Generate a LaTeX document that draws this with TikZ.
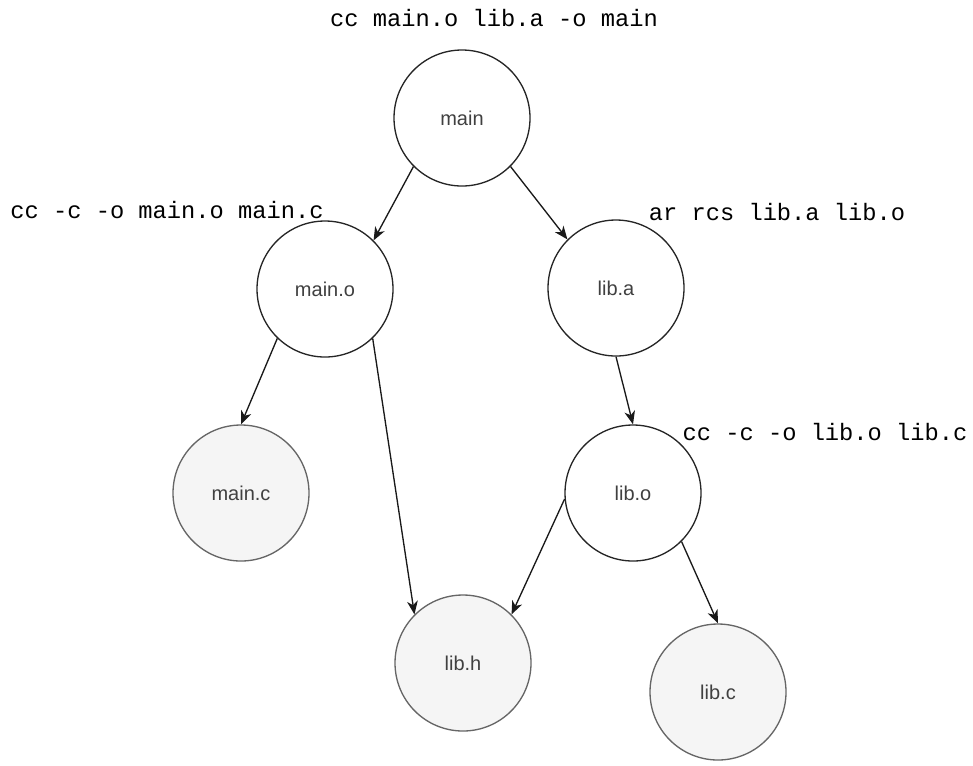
\documentclass[tikz,border=0pt]{standalone}
\usepackage{fontspec}
\setmainfont{Liberation Sans}
\setmonofont{Liberation Mono}
\usetikzlibrary{arrows.meta}

\begin{document}
\begin{tikzpicture}[x=0.75pt, y=-0.75pt,
    target/.style={draw=black!85, circle, line width=1pt, minimum size=102pt,
      inner sep=0pt, font=\fontsize{15}{18}\selectfont, text=black!75},
    source/.style={target, draw=black!60, fill=black!4},
    cmd/.style={font=\ttfamily\fontsize{17.8}{20}\selectfont},
    dep/.style={-{Stealth[length=10pt, width=8pt, inset=3pt]}, line width=1pt, black!90}]
    \useasboundingbox (0, 0) rectangle (973, 765);

    % Build targets
    \node [target] (main) at (462, 118) {main};
    \node [target] (maino) at (325, 289) {main.o};
    \node [target] (liba) at (616, 288) {lib.a};
    \node [target] (libo) at (633, 493) {lib.o};

    % Source files
    \node [source] (mainc) at (241, 493) {main.c};
    \node [source] (libh) at (463, 663) {lib.h};
    \node [source] (libc) at (718, 692) {lib.c};

    % Commands
    \node [cmd] (cmdmain) at (494, 18) {cc main.o lib.a -o main};
    \node [cmd] (cmdmaino) at (167, 210) {cc -c -o main.o main.c};
    \node [cmd] (cmdliba) at (777, 212) {ar rcs lib.a lib.o};
    \node [cmd] (cmdlibo) at (825, 432) {cc -c -o lib.o lib.c};

    % Dependencies
    \foreach \a/\b in {main.225/maino.45, main.315/liba.135,
                       maino.226/mainc.90, maino.314/libh.135,
                       liba.270/libo.90, libo.185/libh.45, libo.315/libc.90} {
      \draw [dep] (\a) -- (\b);
    }
\end{tikzpicture}
\end{document}
